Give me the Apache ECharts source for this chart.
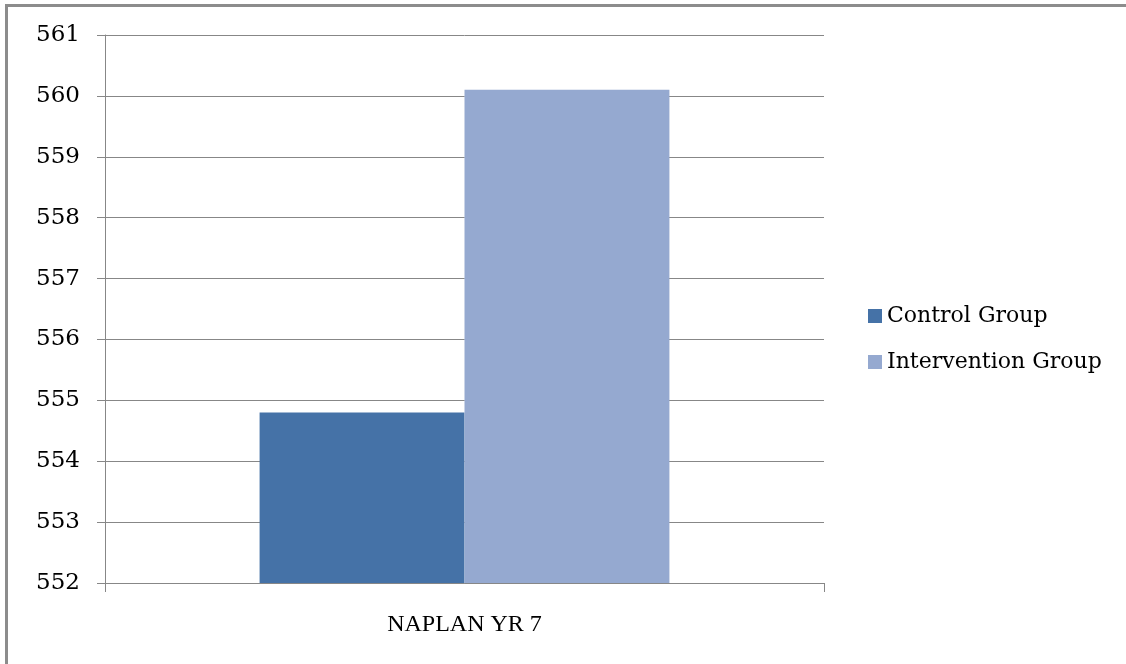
<!DOCTYPE html>
<html>
<head>
<meta charset="utf-8">
<script src="https://cdn.jsdelivr.net/npm/echarts@6/dist/echarts.min.js"></script>
<style>
  html, body { margin: 0; padding: 0; background: #fff; }
  #chart { width: 1126px; height: 664px; }
</style>
</head>
<body>
<div id="chart"></div>
<script>
// NAPLAN Year 7 mean scores by group
const categories = ['NAPLAN YR 7'];
const controlGroup = [554.8];
const interventionGroup = [560.1];
const yMin = 552;
const yMax = 561;
const yStep = 1;

const SERIF = '"DejaVu Serif", "Liberation Serif", serif';
const GRID_GREY = '#878787';

const chart = echarts.init(document.getElementById('chart'), null, { renderer: 'canvas' });

chart.setOption({
  animation: false,
  backgroundColor: '#ffffff',
  graphic: [{
    type: 'rect',
    shape: { x: 6.5, y: 5.5, width: 1300, height: 800 },
    style: { fill: 'none', stroke: '#8c8c8c', lineWidth: 3 },
    silent: true
  }],
  grid: { left: 105, right: 302, top: 35, bottom: 81, containLabel: false },
  legend: {
    orient: 'vertical',
    left: 863,
    top: 299,
    padding: 5,
    icon: 'rect',
    itemWidth: 14,
    itemHeight: 14,
    itemGap: 22,
    textStyle: { fontFamily: SERIF, fontSize: 22, color: '#000', lineHeight: 24 },
    data: ['Control Group', 'Intervention Group']
  },
  xAxis: {
    type: 'category',
    data: categories,
    boundaryGap: true,
    axisLine: { show: true, lineStyle: { color: GRID_GREY, width: 1 } },
    axisTick: { show: true, length: 9, lineStyle: { color: GRID_GREY } },
    axisLabel: { fontFamily: '"Liberation Serif", serif', fontSize: 24, color: '#000', margin: 30 }
  },
  yAxis: {
    type: 'value',
    min: yMin,
    max: yMax,
    interval: yStep,
    axisLine: { show: true, lineStyle: { color: GRID_GREY, width: 1 } },
    axisTick: { show: true, length: 8, lineStyle: { color: GRID_GREY } },
    splitLine: { show: true, lineStyle: { color: GRID_GREY, width: 1 } },
    axisLabel: { fontFamily: SERIF, fontSize: 23, color: '#000', margin: 25 }
  },
  series: [
    {
      name: 'Control Group',
      type: 'bar',
      data: controlGroup,
      barWidth: '28.5%',
      barGap: '0%',
      itemStyle: { color: '#4572A7' }
    },
    {
      name: 'Intervention Group',
      type: 'bar',
      data: interventionGroup,
      barWidth: '28.5%',
      barGap: '0%',
      itemStyle: { color: '#95A9D0' }
    }
  ]
});
</script>
</body>
</html>
